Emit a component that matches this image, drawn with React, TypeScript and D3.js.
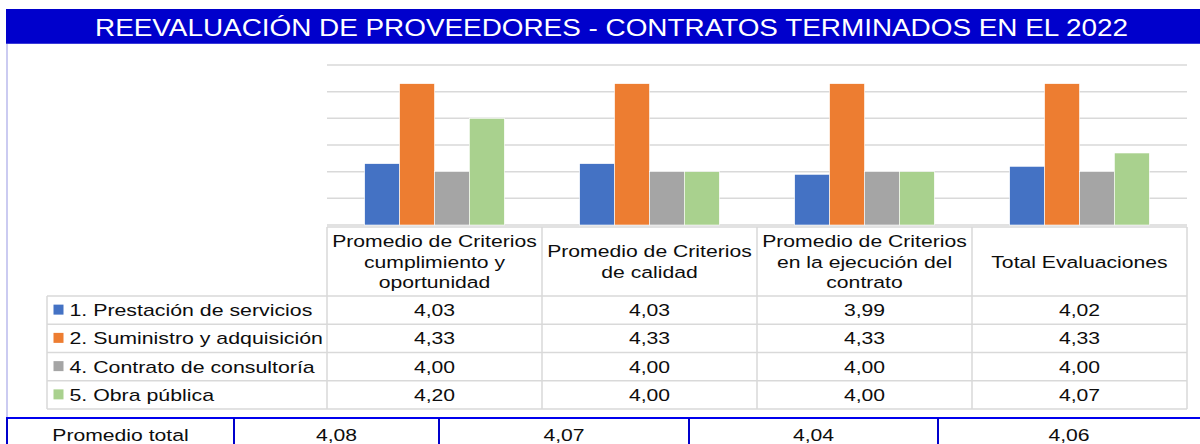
import React from "react";
import * as d3 from "d3";

const TITLE = "REEVALUACIÓN DE PROVEEDORES - CONTRATOS TERMINADOS EN EL 2022";
const categories = [
  "Promedio de Criterios cumplimiento y oportunidad",
  "Promedio de Criterios de calidad",
  "Promedio de Criterios en la ejecución del contrato",
  "Total Evaluaciones",
];
const categoryLines = [
  ["Promedio de Criterios", "cumplimiento y", "oportunidad"],
  ["Promedio de Criterios", "de calidad"],
  ["Promedio de Criterios", "en la ejecución del", "contrato"],
  ["Total Evaluaciones"],
];
const seriesNames = [
  "1. Prestación de servicios",
  "2. Suministro y adquisición",
  "4. Contrato de consultoría",
  "5. Obra pública",
];
const prestacion = [4.03, 4.03, 3.99, 4.02];
const suministro = [4.33, 4.33, 4.33, 4.33];
const consultoria = [4.0, 4.0, 4.0, 4.0];
const obraPublica = [4.2, 4.0, 4.0, 4.07];
const seriesValues = [prestacion, suministro, consultoria, obraPublica];
const seriesColors = ["#4472C4", "#ED7D31", "#A5A5A5", "#A9D18E"];
const yTicks = [3.8, 3.9, 4.0, 4.1, 4.2, 4.3, 4.4];
const totalLabel = "Promedio total";
const totals = [4.08, 4.07, 4.04, 4.06];

const FONT = "'Liberation Sans', Arial, sans-serif";
const SX = 1.245; // horizontal stretch of text
const fmt = (v: number) => d3.format(".2f")(v).replace(".", ",");

function T({ x, y, children, size = 17, anchor = "middle", fill = "#0d0d0d", sx = SX }: any) {
  return (
    <text
      transform={`translate(${x},${y}) scale(${sx},1)`}
      textAnchor={anchor}
      fontFamily={FONT}
      fontSize={size}
      fill={fill}
    >
      {children}
    </text>
  );
}

export default function App() {
  const W = 1200;
  const H = 444;
  const plotLeft = 327;
  const plotRight = 1187;
  const x = d3.scaleBand<string>().domain(categories).range([plotLeft, plotRight]);
  const inner = d3
    .scaleBand<string>()
    .domain(seriesNames)
    .range([0, x.bandwidth()])
    .paddingInner(0)
    .paddingOuter(1.08);
  const y = d3.scaleLinear().domain([3.8, 4.4]).range([225, 65]);

  const headerTop = 227;
  const headerBottom = 296;
  const rowH = 28.25;
  const legendLeft = 47;
  const rowTops = seriesNames.map((_, i) => headerBottom + i * rowH);
  const tableBottom = headerBottom + seriesNames.length * rowH;
  const grid = "#D9D9D9";

  const bottomY = 418;
  const bottomCols = [7, 234, 439, 689, 938, 1200];

  return (
    <svg width={W} height={H} style={{ position: "absolute", left: 0, top: 0, background: "#fff" }}>
      <rect x={0} y={0} width={W} height={H} fill="#fff" />
      {/* chart frame left border */}
      <line x1={7} x2={7} y1={44} y2={bottomY} stroke="#A8A8E8" strokeWidth={1.2} />
      {/* title */}
      <rect x={6} y={9} width={W - 6} height={35} fill="#0000CC" />
      <line x1={6} x2={W} y1={43.5} y2={43.5} stroke="#3B3BD8" strokeWidth={1} />
      <T x={611.5} y={35.5} size={24} fill="#fff" sx={1.162}>
        {TITLE}
      </T>

      {/* gridlines */}
      {yTicks.map((t) => (
        <line key={t} x1={plotLeft} x2={plotRight} y1={y(t)} y2={y(t)} stroke={grid} strokeWidth={1.5} />
      ))}

      {/* bars */}
      {categories.map((c, ci) => (
        <g key={c} transform={`translate(${x(c)},0)`}>
          {seriesNames.map((s, si) => {
            const v = seriesValues[si][ci];
            return (
              <rect
                key={s}
                x={inner(s)}
                y={y(v)}
                width={inner.bandwidth()}
                height={y(3.8) - y(v)}
                fill={seriesColors[si]}
                stroke="#fff"
                strokeWidth={0.6}
              />
            );
          })}
        </g>
      ))}

      {/* data table: header cells */}
      {categories.map((c, ci) => {
        const x0 = x(c)!;
        const cx = x0 + x.bandwidth() / 2;
        const lines = categoryLines[ci];
        const cy = (headerTop + headerBottom) / 2;
        return (
          <g key={c}>
            {lines.map((l, li) => (
              <T key={li} x={cx} y={cy + (li - (lines.length - 1) / 2) * 20.5 + 6}>
                {l}
              </T>
            ))}
          </g>
        );
      })}
      {/* table grid lines */}
      <line x1={plotLeft} x2={plotRight} y1={headerTop} y2={headerTop} stroke={grid} strokeWidth={1.5} />
      {[headerBottom, ...rowTops.slice(1), tableBottom].map((yy, i) => (
        <line key={i} x1={legendLeft} x2={plotRight} y1={yy} y2={yy} stroke={grid} strokeWidth={1.5} />
      ))}
      <line x1={legendLeft} x2={legendLeft} y1={headerBottom} y2={tableBottom} stroke={grid} strokeWidth={1.5} />
      {[...categories.map((c) => x(c)!), plotRight].map((xx, i) => (
        <line key={i} x1={xx} x2={xx} y1={headerTop} y2={tableBottom} stroke={grid} strokeWidth={1.5} />
      ))}
      {/* table rows */}
      {seriesNames.map((s, si) => {
        const top = rowTops[si];
        const cy = top + rowH / 2;
        return (
          <g key={s}>
            <rect x={53.5} y={cy - 5.5} width={10} height={10} fill={seriesColors[si]} />
            <T x={69.5} y={cy + 6} anchor="start" sx={1.255}>
              {s}
            </T>
            {categories.map((c, ci) => (
              <T key={c} x={x(c)! + x.bandwidth() / 2} y={cy + 6}>
                {fmt(seriesValues[si][ci])}
              </T>
            ))}
          </g>
        );
      })}

      {/* bottom total row */}
      <line x1={6} x2={W} y1={bottomY} y2={bottomY} stroke="#0000EE" strokeWidth={2} />
      {bottomCols.slice(0, 5).map((xx, i) => (
        <line key={i} x1={xx} x2={xx} y1={bottomY} y2={H} stroke="#0000CC" strokeWidth={2} />
      ))}
      <T x={(bottomCols[0] + bottomCols[1]) / 2} y={441}>
        {totalLabel}
      </T>
      {totals.map((v, i) => (
        <T key={i} x={(bottomCols[i + 1] + bottomCols[i + 2]) / 2} y={441}>
          {fmt(v)}
        </T>
      ))}
    </svg>
  );
}
